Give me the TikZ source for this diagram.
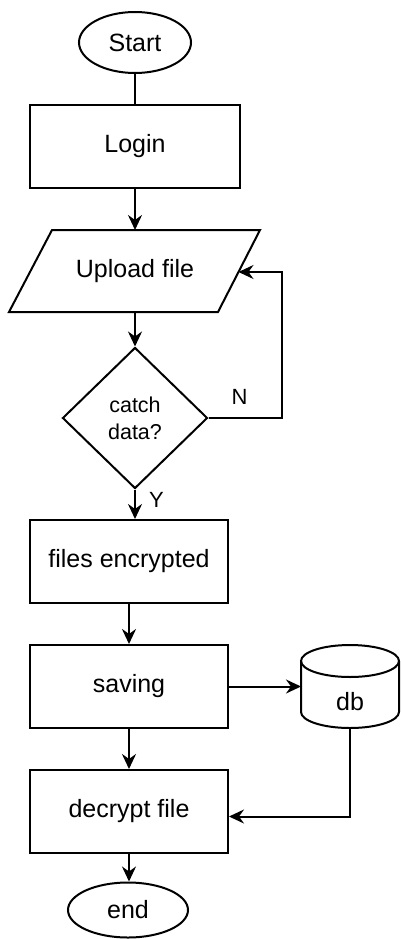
\documentclass[tikz,border=0pt]{standalone}
\usepackage{fontspec}
\setmainfont{Liberation Sans}
\usetikzlibrary{shapes.geometric,arrows.meta}

\begin{document}
\begin{tikzpicture}[x=1pt,y=-1pt,
  line width=2pt,
  base/.style={draw=black, line width=2pt, inner sep=0pt,
    font=\fontsize{25}{30}\selectfont},
  term/.style={base, ellipse},
  proc/.style={base, rectangle, minimum width=198pt, minimum height=83pt},
  txt/.style={draw=none, inner sep=0pt, font=\fontsize{25}{30}\selectfont},
  lbl/.style={draw=none, inner sep=0pt, font=\fontsize{22}{26}\selectfont},
  flow/.style={-{Stealth[length=15pt,width=14pt,inset=5pt]}, line width=2pt},
  heavy/.style={flow, line width=2.8pt}
]
\useasboundingbox (0,0) rectangle (401,939);

% terminals and process steps
\node[term, minimum width=112pt, minimum height=61pt] (start) at (135,42.5) {Start};
\node[proc, minimum width=210pt] (login) at (135,146.5) {Login};

% input step (parallelogram)
\node[txt] (upload) at (135,271) {Upload file};
\coordinate (upTL) at (52,230);
\coordinate (upTR) at (260,230);
\coordinate (upBR) at (218,312);
\coordinate (upBL) at (9,312);
\coordinate (upTop) at (135,230);
\coordinate (upBot) at (135,312);
\coordinate (upR) at (238.5,272);
\draw (upTL) -- (upTR) -- (upBR) -- (upBL) -- cycle;

% decision
\node[base, diamond, minimum width=145pt, minimum height=141pt, align=center,
  font=\fontsize{21.5}{27}\selectfont] (dia) at (135,418) {catch\\data?};
\node[lbl] (nlbl) at (239.5,396.5) {N};
\node[lbl] (ylbl) at (156.5,499.5) {Y};

\node[proc] (enc) at (129,561.5) {files encrypted};
\node[proc] (save) at (129,686.5) {saving};
\node[proc] (dec) at (129,811.5) {decrypt file};
\node[term, minimum width=120pt, minimum height=55pt] (end) at (128,910) {end};

% database cylinder
\node[txt] (db) at (350,702) {db};
\coordinate (dbL) at (301,686.5);
\coordinate (dbB) at (350,728);
\draw (350,661) ellipse [x radius=49pt, y radius=16pt];
\draw (301,661) -- (301,712) arc [start angle=180, end angle=360, x radius=49pt, y radius=16pt] -- (399,661);

% connectors
\draw (start) -- (login);
\draw[flow] (login) -- (upTop);
\draw[flow] (upBot) -- (dia);
\draw[flow] (dia.east) -- ++(73,0) |- (upR);
\draw[flow] (dia.south) -- (dia.south |- enc.north);
\draw[heavy] (enc) -- (save);
\draw[heavy] (save) -- (dec);
\draw[flow] (dec.south) -- (dec.south |- end.north);
\draw[flow] (save.east) -- (dbL);
\draw[flow] (dbB) |- ([yshift=-5pt]dec.east);
\end{tikzpicture}
\end{document}
